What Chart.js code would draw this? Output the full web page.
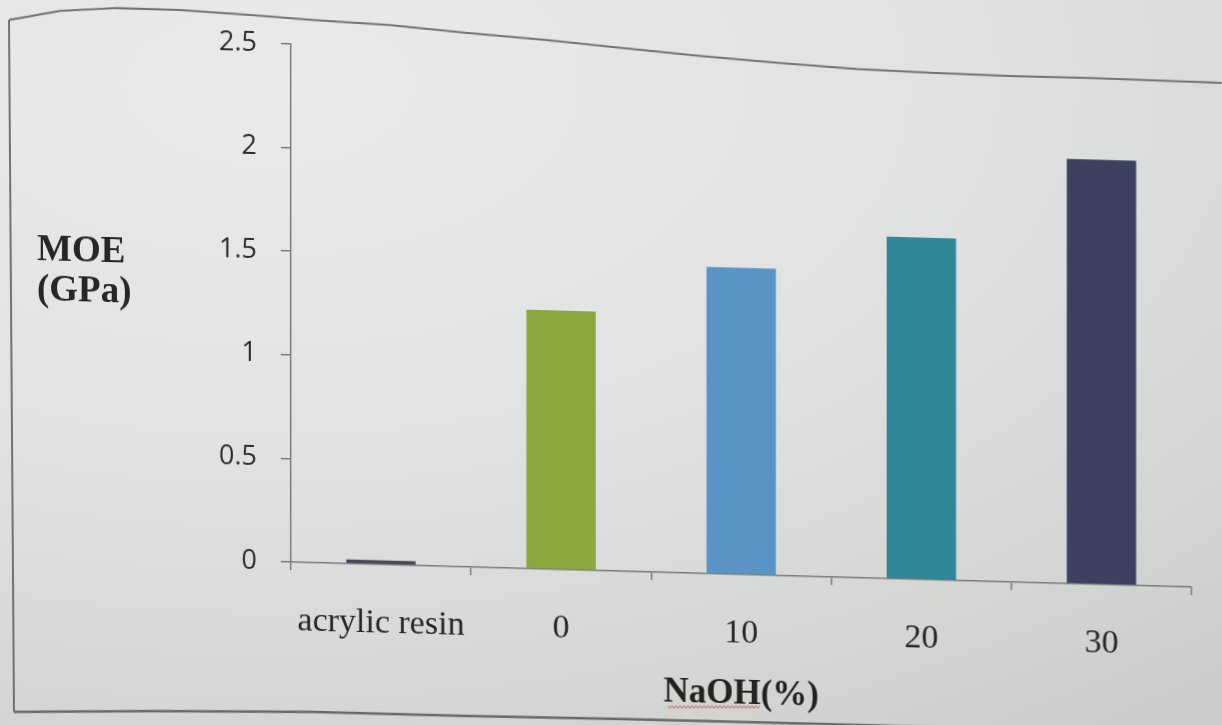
<!DOCTYPE html>
<html>
<head>
<meta charset="utf-8">
<script src="https://cdn.jsdelivr.net/npm/chart.js@4"></script>
<style>
  html, body { margin: 0; padding: 0; width: 1222px; height: 725px; overflow: hidden; }
  body { background: radial-gradient(ellipse 120% 110% at 22% 12%, #e8ebea 0%, #e0e3e2 45%, #d3d6d3 80%, #c9ccc9 100%); }
  #wrap { position: absolute; left: 0; top: 0; width: 1222px; height: 725px;
          transform: skewY(1.59deg); transform-origin: 288px 0; }
</style>
</head>
<body>
<div id="wrap"><canvas id="c" width="1222" height="725"></canvas></div>
<script>
// MOE of acrylic resin and of composites with fibres treated at different NaOH concentrations
const categories = ['acrylic resin', '0', '10', '20', '30'];
const moeValues  = [0.02, 1.25, 1.48, 1.65, 2.05];
const barColors  = ['#4a4757', '#8aa83e', '#5a93c6', '#2f8797', '#3d4160'];
const yTickValues = [0, 0.5, 1, 1.5, 2, 2.5];
const yTitleLines = ['MOE', '(GPa)'];
const xTitle = 'NaOH(%)';

// the sheet is slightly tilted; page-space points are mapped back into canvas space
const SKEW = Math.tan(1.59 * Math.PI / 180);
const toCanvasY = (x, y) => y - SKEW * (x - 288);

const framePlugin = {
  id: 'frame',
  beforeDraw(chart) {
    const ctx = chart.ctx;
    const top = [[9,20],[60,11],[117,8],[179,10],[250,15],[312,20],[390,25],[468,33],[545,40],
                 [623,48],[700,56],[779,63],[857,69],[935,73],[1013,76],[1091,78],[1222,83]];
    const bottom = [[14,712],[156,711],[312,712],[468,716],[623,719],[779,723],[935,727],[1222,734]];
    ctx.save();
    ctx.strokeStyle = '#707372';
    ctx.lineWidth = 2;
    ctx.lineJoin = 'round';
    ctx.beginPath();
    top.forEach(([x, y], i) => i ? ctx.lineTo(x, toCanvasY(x, y)) : ctx.moveTo(x, toCanvasY(x, y)));
    ctx.stroke();
    ctx.beginPath();
    ctx.moveTo(9, toCanvasY(9, 20));
    ctx.lineTo(14, toCanvasY(14, 712));
    ctx.stroke();
    ctx.lineWidth = 2.5;
    ctx.strokeStyle = '#666968';
    ctx.beginPath();
    bottom.forEach(([x, y], i) => i ? ctx.lineTo(x, toCanvasY(x, y)) : ctx.moveTo(x, toCanvasY(x, y)));
    ctx.stroke();
    ctx.restore();
  },
  afterDraw(chart) {
    const ctx = chart.ctx;
    ctx.save();
    ctx.fillStyle = '#262626';
    ctx.font = 'bold 37px "Liberation Serif", "Times New Roman", serif';
    ctx.textAlign = 'left';
    ctx.textBaseline = 'middle';
    ctx.fillText(yTitleLines[0], 37, toCanvasY(82, 252));
    ctx.fillText(yTitleLines[1], 37, toCanvasY(82, 292));
    // spell-check squiggle under the axis title
    ctx.strokeStyle = 'rgba(200,60,60,0.45)';
    ctx.lineWidth = 1.5;
    ctx.beginPath();
    for (let x = 668; x <= 760; x += 2) {
      const y = toCanvasY(x, 707) + ((x / 2) % 2 ? 1 : -1);
      x === 668 ? ctx.moveTo(x, y) : ctx.lineTo(x, y);
    }
    ctx.stroke();
    ctx.restore();
  }
};

new Chart(document.getElementById('c'), {
  type: 'bar',
  data: {
    labels: categories,
    datasets: [{
      data: moeValues,
      backgroundColor: barColors,
      borderWidth: 0,
      barPercentage: 0.385,
      categoryPercentage: 1.0
    }]
  },
  plugins: [framePlugin],
  options: {
    responsive: false,
    animation: false,
    devicePixelRatio: 1,
    layout: { padding: { top: 44, right: 30, left: 0, bottom: 0 } },
    plugins: { legend: { display: false }, tooltip: { enabled: false } },
    scales: {
      x: {
        grid: { drawOnChartArea: false, drawTicks: true, tickLength: 8, color: '#7a7c7b', lineWidth: 1.5 },
        border: { display: true, color: '#7a7c7b', width: 1.5 },
        ticks: {
          color: '#262626',
          padding: 31,
          font: { family: '"Liberation Serif", "Times New Roman", serif', size: 34 },
          maxRotation: 0
        },
        title: {
          display: true,
          text: xTitle,
          color: '#222',
          font: { family: '"Liberation Serif", "Times New Roman", serif', size: 35, weight: 'bold' },
          padding: { top: 0, bottom: 22 }
        },
        afterFit(scale) { scale.height = 725 - 562; }
      },
      y: {
        min: 0,
        max: 2.5,
        afterBuildTicks(scale) { scale.ticks = yTickValues.map(v => ({ value: v })); },
        grid: { drawOnChartArea: false, drawTicks: true, tickLength: 10, color: '#7a7c7b', lineWidth: 1.5 },
        border: { display: true, color: '#7a7c7b', width: 1.5 },
        ticks: {
          color: '#2e2e2e',
          padding: 24,
          font: { family: '"Open Sans", "Noto Sans", sans-serif', size: 27 },
          callback: (value) => String(value)
        },
        afterFit(scale) { scale.width = 291; }
      }
    }
  }
});
</script>
</body>
</html>
